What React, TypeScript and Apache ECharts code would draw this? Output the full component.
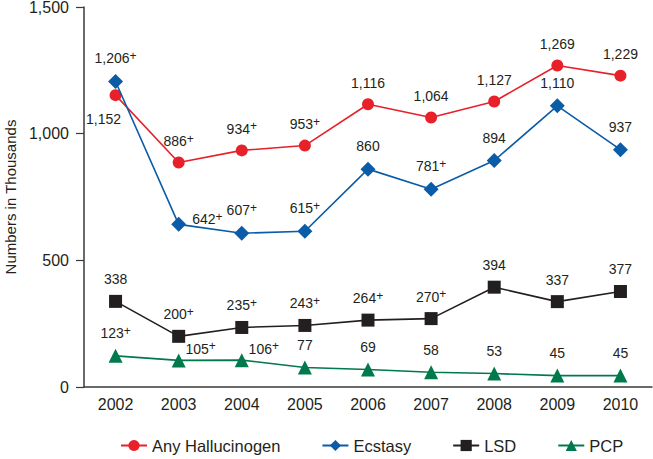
import React, { useEffect, useRef } from "react";
import * as echarts from "echarts";

const years = ["2002", "2003", "2004", "2005", "2006", "2007", "2008", "2009", "2010"];
const hallucinogen = [1152, 886, 934, 953, 1116, 1064, 1127, 1269, 1229];
const hallucinogenPlus = [false, true, true, true, false, false, false, false, false];
const ecstasy = [1206, 642, 607, 615, 860, 781, 894, 1110, 937];
const ecstasyPlus = [true, true, true, true, false, true, false, false, false];
const lsd = [338, 200, 235, 243, 264, 270, 394, 337, 377];
const lsdPlus = [false, true, true, true, true, true, false, false, false];
const pcp = [123, 105, 106, 77, 69, 58, 53, 45, 45];
const pcpPlus = [true, true, true, false, false, false, false, false, false];
const yTicks = [0, 500, 1000, 1500];

const FONT = "Liberation Sans, Arial, Helvetica, sans-serif";
const TEXT = "#231F20";

const fmt = (n: number) => n.toLocaleString("en-US");

const rich = {
  v: { fontSize: 14, color: TEXT, fontFamily: FONT, lineHeight: 17 },
  s: { fontSize: 12, color: TEXT, fontFamily: FONT, verticalAlign: "top" as const, lineHeight: 17, padding: [0, 0, 7, 0] },
};

function makeData(values: number[], overrides: Record<number, any> = {}) {
  return values.map((v, i) => {
    const item: any = { value: v };
    if (overrides[i]) item.label = overrides[i];
    return item;
  });
}

function labelFormatter(plus: boolean[]) {
  return (p: any) => `{v|${fmt(p.value)}}` + (plus[p.dataIndex] ? "{s|+}" : "");
}

export default function App() {
  const ref = useRef<HTMLDivElement>(null);
  useEffect(() => {
    if (!ref.current) return;
    const chart = echarts.init(ref.current, null, { renderer: "svg" });
    const baseLabel = (plus: boolean[]) => ({
      show: true,
      position: "top" as const,
      distance: 7,
      formatter: labelFormatter(plus),
      rich,
    });
    chart.setOption({
      animation: false,
      textStyle: { fontFamily: FONT },
      grid: { left: 84, right: 1, top: 7, bottom: 72, containLabel: false, outerBoundsMode: "none" },
      legend: {
        left: 115,
        bottom: 0,
        itemWidth: 26,
        itemHeight: 14,
        itemGap: 41,
        textStyle: { fontSize: 16.5, color: TEXT, fontFamily: FONT },
        data: ["Any Hallucinogen", "Ecstasy", "LSD", "PCP"],
      },
      xAxis: {
        type: "category",
        data: years,
        boundaryGap: true,
        axisLine: { lineStyle: { color: "#3a3a3a", width: 1.5 } },
        axisTick: { alignWithLabel: true, length: 6, lineStyle: { color: "#3a3a3a", width: 1.2 } },
        axisLabel: { fontSize: 16, color: TEXT, margin: 9, fontFamily: FONT },
      },
      yAxis: {
        type: "value",
        min: 0,
        max: 1500,
        interval: 500,
        name: "Numbers in Thousands",
        nameLocation: "middle",
        nameGap: 65,
        nameRotate: 90,
        nameTextStyle: { fontSize: 15, color: TEXT, fontFamily: FONT },
        axisLine: { show: true, lineStyle: { color: "#3a3a3a", width: 1.5 } },
        axisTick: { show: true, length: 8, lineStyle: { color: "#3a3a3a", width: 1.2 } },
        splitLine: { show: false },
        axisLabel: {
          fontSize: 16,
          color: TEXT,
          margin: 15,
          fontFamily: FONT,
          formatter: (v: number) => (yTicks.includes(v) ? fmt(v) : ""),
        },
      },
      series: [
        {
          name: "Any Hallucinogen",
          type: "line",
          data: makeData(hallucinogen, {
            0: { position: "bottom", offset: [-12, 2] },
          }),
          symbol: "circle",
          symbolSize: 12,
          itemStyle: { color: "#E8202A" },
          lineStyle: { color: "#E8202A", width: 1.6 },
          label: baseLabel(hallucinogenPlus),
          z: 3,
        },
        {
          name: "Ecstasy",
          type: "line",
          data: makeData(ecstasy, {
            1: { position: "right", distance: 6, offset: [0, -5] },
          }),
          symbol: "diamond",
          symbolSize: 15,
          itemStyle: { color: "#0A5CA8" },
          lineStyle: { color: "#0A5CA8", width: 1.6 },
          label: baseLabel(ecstasyPlus),
          z: 4,
        },
        {
          name: "LSD",
          type: "line",
          data: makeData(lsd),
          symbol: "rect",
          symbolSize: 13,
          itemStyle: { color: "#231F20" },
          lineStyle: { color: "#231F20", width: 1.6 },
          label: baseLabel(lsdPlus),
        },
        {
          name: "PCP",
          type: "line",
          data: makeData(pcp, {
            1: { position: "top", offset: [22, 11] },
            2: { position: "top", offset: [22, 11] },
          }),
          symbol: "triangle",
          symbolSize: 14,
          itemStyle: { color: "#00794C" },
          lineStyle: { color: "#00794C", width: 1.6 },
          label: baseLabel(pcpPlus),
        },
      ],
    });
    return () => chart.dispose();
  }, []);
  return <div ref={ref} style={{ width: 653, height: 459, position: "absolute", left: 0, top: 0 }} />;
}
